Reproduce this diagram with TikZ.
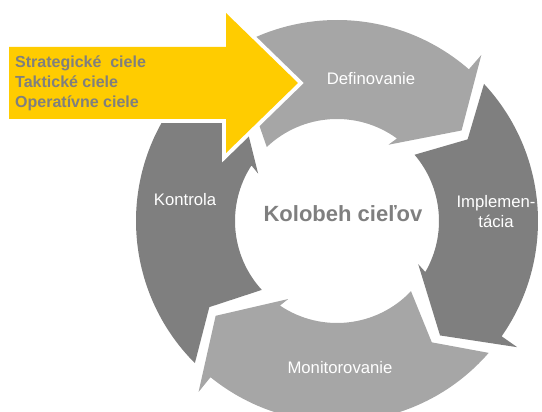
\documentclass[tikz,border=0pt]{standalone}
\usepackage{fontspec}
\setmainfont{Liberation Sans}
\usepackage{tikz}
\usetikzlibrary{positioning,calc}
\definecolor{goalyellow}{HTML}{FFCC00}
\definecolor{seglight}{HTML}{A6A6A6}
\definecolor{segdark}{HTML}{7F7F7F}
\definecolor{textgray}{HTML}{7F7F7F}
\tikzset{
    seglabel/.style = {text=white, font=\fontsize{16.7}{20}\selectfont, inner sep=0pt, align=center},
    goaltext/.style = {text=textgray, font=\fontsize{16}{20}\selectfont\bfseries, inner sep=0pt, align=left},
    centertext/.style = {text=textgray, font=\fontsize{22}{26}\selectfont\bfseries, inner sep=0pt},
}
% one curved block arrow of the cycle: #1 tip angle, #2 tip angle of the block before, #3 colour
\newcommand{\cycleseg}[3]{%
    \fill[#3] ({#2+7}:201) arc[start angle={#2+7}, end angle={#1+13}, radius=201pt]
        -- ({#1+13}:220) -- (#1:154) -- ({#1+20}:92) -- ({#1+18}:102)
        arc[start angle={#1+18}, end angle={#2+4.5}, radius=102pt]
        -- ({#2-4}:154) -- cycle;
}

\begin{document}
\begin{tikzpicture}[x=1pt, y=1pt]
\useasboundingbox (0,0) rectangle (542,412);

% Cycle blocks around the centre
\begin{scope}[shift={(337,191)}]
    \cycleseg{36}{129}{seglight}
    \cycleseg{-48}{36}{segdark}
    \cycleseg{-142}{-48}{seglight}
    \cycleseg{129}{218}{segdark}
    \coordinate (center) at (0,0);
\end{scope}

% Block labels
\node[seglabel] (define) at (371,333) {Definovanie};
\node[seglabel] (implement) at (496,200) {Implemen-\\tácia};
\node[seglabel] (monitor) at (340,44) {Monitorovanie};
\node[seglabel] (control) at (185,212) {Kontrola};
\node[centertext] (cycle) at (343,198) {Kolobeh cieľov};

% Goals arrow on top
\draw[white, line width=8pt, line join=miter]
    (9,365) -- (226,365) -- (226,399) -- (298,329) -- (226,259) -- (226,293) -- (9,293) -- cycle;
\fill[goalyellow]
    (9,365) -- (226,365) -- (226,399) -- (298,329) -- (226,259) -- (226,293) -- (9,293) -- cycle;
\node[goaltext, anchor=west] (goals) at (15,329) {Strategické~ ciele\\Taktické ciele\\Operatívne ciele};

\end{tikzpicture}
\end{document}
